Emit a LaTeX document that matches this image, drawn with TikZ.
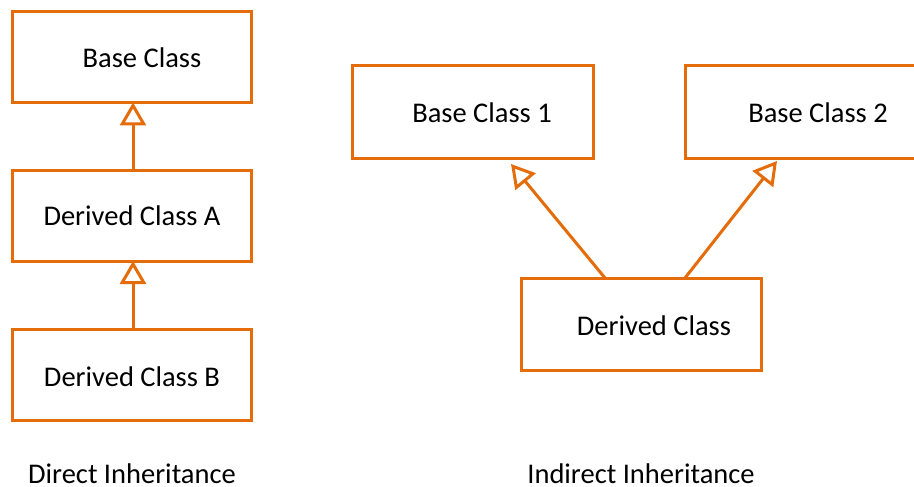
\documentclass[tikz,border=0pt]{standalone}
\usepackage{fontspec}
\setmainfont{Carlito}
\usetikzlibrary{arrows.meta,calc}
\definecolor{accent}{HTML}{E46C0A}
\begin{document}
\begin{tikzpicture}[x=1pt,y=-1pt,
  classbox/.style={draw=accent, line width=3pt, inner sep=0pt, outer sep=0pt,
    minimum width=239pt, minimum height=91pt},
  classname/.style={font=\fontsize{28.5}{32}\selectfont, inner sep=0pt},
  caption/.style={font=\fontsize{28.5}{32}\selectfont, inner sep=0pt,
    text depth=0pt, anchor=base},
  inherit/.style={draw=accent, line width=3pt,
    -{Triangle[open, length=23pt, width=26pt]}}]
  \clip (0,0) rectangle (914,487);
  \fill[white] (0,0) rectangle (914,487);

  % direct inheritance chain
  \node[classbox] (base) at (131.5,57) {};
  \node[classbox] (dA) at (131.5,215.5) {};
  \node[classbox] (dB) at (131.5,375) {};
  \node[classname] (baseT) at (142,58) {Base Class};
  \node[classname] (dAT) at (132,216) {Derived Class A};
  \node[classname] (dBT) at (132,377) {Derived Class B};
  \draw[inherit] ($(dA.north)+(1.5,0)$) -- ($(base.south)+(1.5,0)$);
  \draw[inherit] ($(dB.north)+(1.5,0)$) -- ($(dA.south)+(1.5,0)$);

  % indirect inheritance: one class, two bases
  \node[classbox, minimum width=241pt, minimum height=92pt] (b1) at (472.5,112) {};
  \node[classbox, minimum width=255pt, minimum height=92pt] (b2) at (812.5,112) {};
  \node[classbox, minimum width=240pt, minimum height=92pt] (d) at (641,324) {};
  \node[classname] (b1T) at (482,113) {Base Class 1};
  \node[classname] (b2T) at (818,113) {Base Class 2};
  \node[classname] (dT) at (654,326) {Derived Class};
  \draw[inherit] ($(d.north west)+(84,0)$) -- ($(b1.south west)+(159,6)$);
  \draw[inherit] ($(d.north west)+(164,0)$) -- ($(b2.south west)+(92,3)$);

  % captions
  \node[caption] (capD) at (132,483) {Direct Inheritance};
  \node[caption] (capI) at (641,483) {Indirect Inheritance};
\end{tikzpicture}
\end{document}
